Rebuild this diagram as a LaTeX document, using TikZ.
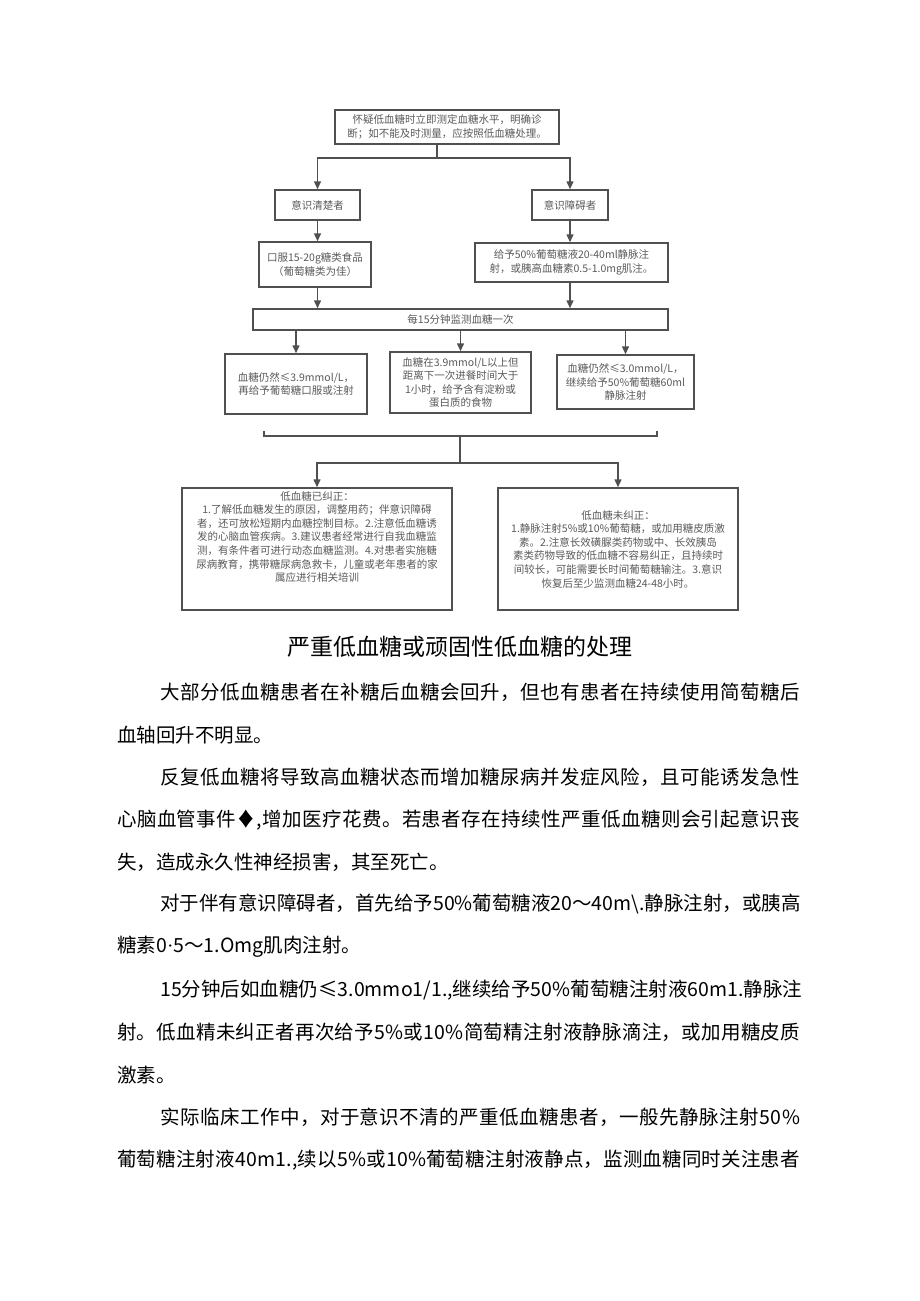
\documentclass[tikz,border=0pt]{standalone}
\usepackage{fontspec}
\setmainfont{Noto Sans CJK SC}
\newfontfamily\latinf{Liberation Serif}
\usetikzlibrary{arrows.meta}
\definecolor{boxc}{HTML}{505050}
\definecolor{txtc}{HTML}{5A5A5A}
\newcommand\flowfont{\fontsize{10.5}{13.6}\selectfont}
\newcommand\bodyfont{\fontsize{19.5}{24}\selectfont}
\newcommand\titlefont{\fontsize{23}{28}\selectfont}
\makeatletter
\def\spreadtext#1{\spread@first#1\@nil}
\def\spread@first#1{#1\spread@next}
\def\spread@next#1{\ifx#1\@nil\else\hskip0pt plus 1fil\relax#1\expandafter\spread@next\fi}
\makeatother
\newcommand\jline[2]{\makebox[#1][s]{\spreadtext{#2}}}
\begin{document}
\begin{tikzpicture}[x=1pt,y=-1pt,
  box/.style={draw=boxc, line width=1.5pt, inner sep=0pt, align=center, text=txtc, font=\flowfont},
  ftext/.style={inner sep=0pt, align=center, text=txtc, font=\flowfont},
  ln/.style={draw=boxc, line width=1.5pt},
  arr/.style={draw=boxc, line width=1.5pt, -{Triangle[length=8pt,width=7pt]}},
  bodyn/.style={anchor=west, inner sep=0pt, font=\bodyfont, text=black}]
\useasboundingbox (0,0) rectangle (920,1301);
\fill[white] (0,0) rectangle (920,1301);

% flowchart boxes
\node[box, minimum width=224, minimum height=34] (top) at (447,127)
  {怀疑低血糖时立即测定血糖水平，明确诊\\断；如不能及时测量，应按照低血糖处理。};
\node[box, minimum width=85, minimum height=30] (b1) at (317.5,205) {意识清楚者};
\node[box, minimum width=76, minimum height=30] (b2) at (570,205) {意识障碍者};
\node[box, minimum width=112, minimum height=45] (c1) at (315,264.5)
  {口服15-20g糖类食品\\（葡萄糖类为佳）};
\node[box, minimum width=193, minimum height=39] (c2) at (571.5,262.5)
  {给予50\%葡萄糖液20-40ml静脉注\\射，或胰高血糖素0.5-1.0mg肌注。};
\node[box, minimum width=415, minimum height=21] (bar) at (460.5,319.5) {每15分钟监测血糖一次};
\node[box, minimum width=142, minimum height=60] (d1) at (296,384)
  {血糖仍然≤3.9mmol/L，\\再给予葡萄糖口服或注射};
\node[box, minimum width=141, minimum height=61] (d2) at (460.5,382.5)
  {血糖在3.9mmol/L以上但\\距离下一次进餐时间大于\\1小时，给予含有淀粉或\\蛋白质的食物};
\node[box, minimum width=137, minimum height=54] (d3) at (625.5,382)
  {血糖仍然≤3.0mmol/L，\\继续给予50\%葡萄糖60ml\\静脉注射};
\node[box, minimum width=270, minimum height=122] (e1) at (317,549) {};
\node[ftext, anchor=north] (e1t) at (317,491)
  {低血糖已纠正：\\
   1.了解低血糖发生的原因，调整用药；伴意识障碍\\
   者，还可放松短期内血糖控制目标。2.注意低血糖诱\\
   发的心脑血管疾病。3.建议患者经常进行自我血糖监\\
   测，有条件者可进行动态血糖监测。4.对患者实施糖\\
   尿病教育，携带糖尿病急救卡，儿童或老年患者的家\\
   属应进行相关培训};
\node[box, minimum width=240, minimum height=122] (e2) at (618,549)
  {低血糖未纠正：\\
   1.静脉注射5\%或10\%葡萄糖，或加用糖皮质激\\
   素。2.注意长效磺脲类药物或中、长效胰岛\\
   素类药物导致的低血糖不容易纠正，且持续时\\
   间较长，可能需要长时间葡萄糖输注。3.意识\\
   恢复后至少监测血糖24-48小时。};

% connectors
\coordinate (s1) at (437,158);
\draw[ln] (top.south -| s1) -- (s1);
\draw[arr] (s1) -| (b1.north);
\draw[arr] (s1) -| (b2.north);
\draw[arr] (b1.south) -- (b1.south |- c1.north);
\draw[arr] (b2.south) -- (b2.south |- c2.north);
\draw[arr] (c1.south -| b1.south) -- (b1.south |- bar.north);
\draw[arr] (c2.south -| b2.south) -- (b2.south |- bar.north);
\draw[arr] (bar.south -| d1.north) -- (d1.north);
\draw[arr] (bar.south -| d2.north) -- (d2.north);
\draw[arr] (bar.south -| d3.north) -- (d3.north);

\coordinate (kl0) at (264,431);
\coordinate (kl) at (264,436);
\coordinate (kr) at (657,436);
\coordinate (kr0) at (657,431);
\coordinate (km) at (460,436);
\coordinate (kj) at (460,463);
\draw[ln] (kl0) -- (kl) -- (kr) -- (kr0);
\draw[ln] (km) -- (kj);
\draw[arr] (kj) -| (e1.north);
\draw[arr] (kj) -| (e2.north);

% title
\node[inner sep=0pt, font=\titlefont, text=black] (title) at (460,647) {严重低血糖或顽固性低血糖的处理};

% body text
\node[bodyn] (l1) at (160,692) {\jline{640pt}{大部分低血糖患者在补糖后血糖会回升，但也有患者在持续使用简萄糖后}};
\node[bodyn] (l2) at (117,735) {血轴回升不明显。};
\node[bodyn] (l3) at (160,777) {\jline{640pt}{反复低血糖将导致高血糖状态而增加糖尿病并发症风险，且可能诱发急性}};
\node[bodyn] (l4) at (117,820) {\jline{683pt}{心脑血管事件♦,增加医疗花费。若患者存在持续性严重低血糖则会引起意识丧}};
\node[bodyn] (l5) at (117,862) {失，造成永久性神经损害，其至死亡。};
\node[bodyn] (l6) at (160,904) {\jline{640pt}{对于伴有意识障碍者，首先给予50\%葡萄糖液20～40m\textbackslash.静脉注射，或胰高}};
\node[bodyn] (l7) at (117,947) {糖素0{\latinf ·}5～1.Omg肌肉注射。};
\node[bodyn] (l8) at (160,990) {\jline{635pt}{15分钟后如血糖仍≤3.0mmo1/1.,继续给予50\%葡萄糖注射液60m1.静脉注}};
\node[bodyn] (l9) at (117,1032) {\jline{683pt}{射。低血精未纠正者再次给予5\%或10\%简萄精注射液静脉滴注，或加用糖皮质}};
\node[bodyn] (l10) at (117,1075) {激素。};
\node[bodyn] (l11) at (160,1117) {\jline{640pt}{实际临床工作中，对于意识不清的严重低血糖患者，一般先静脉注射50\%}};
\node[bodyn] (l12) at (117,1160) {\jline{683pt}{葡萄糖注射液40m1.,续以5\%或10\%葡萄糖注射液静点，监测血糖同时关注患者}};
\end{tikzpicture}
\end{document}
